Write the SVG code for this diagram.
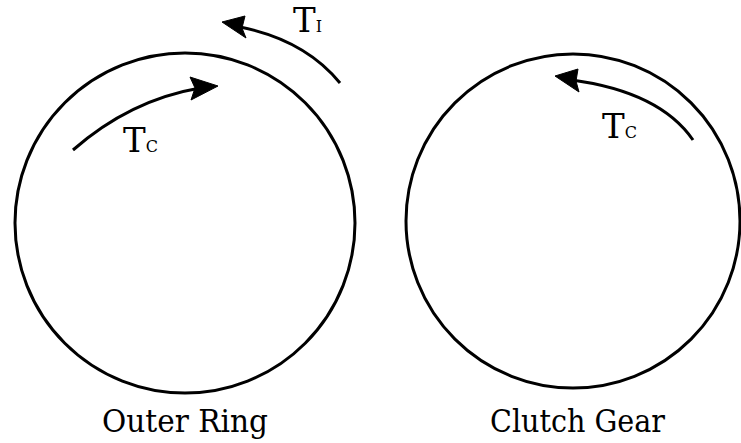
<svg xmlns="http://www.w3.org/2000/svg" width="741" height="443" viewBox="0 0 741 443">
<style>
.ring{fill:none;stroke:#000;stroke-width:3}
.arc{fill:none;stroke:#000;stroke-width:3}
.head{fill:#000;stroke:#000;stroke-width:1;stroke-linejoin:round}
text{font-family:'DejaVu Serif',serif;fill:#000}
.big{font-size:34px}
.sub{font-size:16px}
.lbl{font-size:31px}
</style>
<rect width="741" height="443" fill="#fff"/>
<g id="outer-ring">
<circle class="ring" cx="185" cy="223" r="170"/>
<text class="lbl" x="102" y="432" textLength="166" lengthAdjust="spacingAndGlyphs">Outer Ring</text>
</g>
<g id="clutch-gear">
<circle class="ring" cx="573" cy="221" r="167"/>
<text class="lbl" x="490" y="432" textLength="175" lengthAdjust="spacingAndGlyphs">Clutch Gear</text>
</g>
<g id="connectors">
<path class="arc" d="M73,150 Q130,100 200,88"/>
<polygon class="head" points="218,86 190,77 195,88 191,100"/>
<path class="arc" d="M340,83 Q305,40 240,27"/>
<polygon class="head" points="222,22 245,16 242,28 246,38"/>
<path class="arc" d="M693,140 Q660,92 572,80"/>
<polygon class="head" points="555,76 578,69 576,81 579,92"/>
</g>
<g id="labels">
<text x="123" y="152"><tspan class="big">T</tspan><tspan class="sub">C</tspan></text>
<text x="293" y="32"><tspan class="big">T</tspan><tspan class="sub">I</tspan></text>
<text x="602" y="138"><tspan class="big">T</tspan><tspan class="sub">C</tspan></text>
</g>
</svg>
